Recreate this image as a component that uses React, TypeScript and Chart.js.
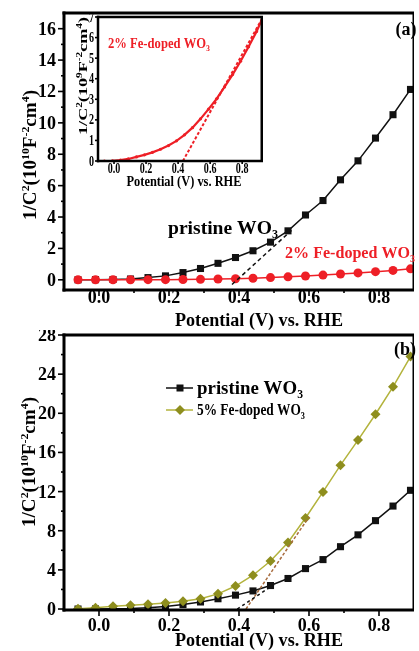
import React, { useEffect, useRef } from 'react';
import { Chart, registerables } from 'chart.js';
Chart.register(...registerables);

// ---------- data ----------
const potential = [-0.06, -0.01, 0.04, 0.09, 0.14, 0.19, 0.24, 0.29, 0.34, 0.39, 0.44, 0.49, 0.54, 0.59, 0.64, 0.69, 0.74, 0.79, 0.84, 0.89];
const pristine = [0.0, 0.01, 0.02, 0.05, 0.14, 0.25, 0.46, 0.72, 1.05, 1.42, 1.85, 2.4, 3.12, 4.13, 5.05, 6.37, 7.58, 9.03, 10.52, 12.13];
const fe2 = [0, 0, 0, 0, 0.01, 0.01, 0.02, 0.03, 0.05, 0.07, 0.1, 0.14, 0.19, 0.24, 0.3, 0.37, 0.44, 0.52, 0.6, 0.7];
const fe5 = [0.04, 0.14, 0.28, 0.38, 0.48, 0.61, 0.79, 1.06, 1.55, 2.35, 3.45, 4.9, 6.8, 9.3, 11.97, 14.7, 17.26, 19.9, 22.7, 25.8];

const insetPotential = [-0.06, -0.01, 0.04, 0.09, 0.14, 0.19, 0.24, 0.29, 0.34, 0.39, 0.44, 0.49, 0.54, 0.59, 0.64, 0.69, 0.74, 0.79, 0.84, 0.89, 0.93];
const insetFe2 = [0, 0.01, 0.04, 0.1, 0.2, 0.3, 0.42, 0.57, 0.75, 0.98, 1.27, 1.62, 2.05, 2.52, 3.02, 3.6, 4.2, 4.85, 5.55, 6.3, 7.0];

const tangentTopX = [0.38, 0.55];
const tangentTopY = [-0.3, 3.15];
const insetTangentX = [0.43, 0.93];
const insetTangentY = [0, 7];
const tangentPristineX = [0.395, 0.5];
const tangentPristineY = [0, 2.5];
const tangentFe5X = [0.42, 0.6];
const tangentFe5Y = [0, 9.4];

const xTicks = [0.0, 0.2, 0.4, 0.6, 0.8];
const xMinor = [0.1, 0.3, 0.5, 0.7];
const topYTicks = [0, 2, 4, 6, 8, 10, 12, 14, 16];
const topYMinor = [1, 3, 5, 7, 9, 11, 13, 15];
const botYTicks = [0, 4, 8, 12, 16, 20, 24, 28];
const botYMinor = [2, 6, 10, 14, 18, 22, 26];
const insetYTicks = [0, 1, 2, 3, 4, 5, 6, 7];
const insetXTicks = [0.0, 0.2, 0.4, 0.6, 0.8];

// ---------- styles ----------
const FONT = '"Liberation Serif", "Times New Roman", serif';
const RED = '#ee1f26';
const BLACK = '#111111';
const OLIVE_PT = '#8e8e1e';
const OLIVE_LN = '#b3b33c';
const BROWN = '#a86c3e';

type Seg = [string, number]; // 0 normal, 1 sup, 2 sub

function segWidth(ctx: CanvasRenderingContext2D, segs: Seg[], size: number) {
  let w = 0;
  for (const [t, k] of segs) {
    ctx.font = `bold ${k ? size * 0.62 : size}px ${FONT}`;
    w += ctx.measureText(t).width;
  }
  return w;
}

function drawRich(
  ctx: CanvasRenderingContext2D,
  segs: Seg[],
  x: number,
  y: number,
  size: number,
  opt: { align?: 'left' | 'center' | 'right'; rot?: number; color?: string; width?: number; sx?: number } = {}
) {
  ctx.save();
  ctx.translate(x, y);
  if (opt.rot) ctx.rotate(opt.rot);
  const w = segWidth(ctx, segs, size);
  const sx = opt.width ? opt.width / w : opt.sx ?? 1;
  ctx.scale(sx, 1);
  let cx = opt.align === 'left' ? 0 : opt.align === 'right' ? -w : -w / 2;
  ctx.fillStyle = opt.color ?? '#000';
  ctx.textBaseline = 'alphabetic';
  ctx.textAlign = 'left';
  for (const [t, k] of segs) {
    const fs = k ? size * 0.62 : size;
    ctx.font = `bold ${fs}px ${FONT}`;
    const dy = k === 1 ? -size * 0.4 : k === 2 ? size * 0.22 : 0;
    ctx.fillText(t, cx, size * 0.33 + dy);
    cx += ctx.measureText(t).width;
  }
  ctx.restore();
}

type Spec = {
  xTicks: number[];
  xMinor: number[];
  yTicks: number[];
  yMinor: number[];
  xFmt: (v: number) => string;
  tickFont: number;
  tickSx: number;
  xLabelY: number;
  yLabelRight: number;
  major: number;
  minor: number;
  frameW: number;
  topW: number;
  rightW: number;
  whiteBg?: boolean;
  texts: (ctx: CanvasRenderingContext2D) => void;
};

function decoPlugin(spec: Spec) {
  return {
    id: 'deco',
    beforeDraw(chart: any) {
      if (!spec.whiteBg) return;
      const { ctx, chartArea: a } = chart;
      ctx.save();
      ctx.fillStyle = '#fff';
      ctx.fillRect(a.left, a.top, a.right - a.left, a.bottom - a.top);
      ctx.restore();
    },
    afterDatasetsDraw(chart: any) {
      const { ctx, chartArea: a, scales } = chart;
      const xs = scales.x;
      const ys = scales.y;
      const line = (x1: number, y1: number, x2: number, y2: number) => {
        ctx.beginPath();
        ctx.moveTo(x1, y1);
        ctx.lineTo(x2, y2);
        ctx.stroke();
      };
      ctx.save();
      ctx.strokeStyle = '#000';
      ctx.lineWidth = 1.6;
      for (const v of spec.xTicks) {
        const p = xs.getPixelForValue(v);
        line(p, a.bottom, p, a.bottom + spec.major);
      }
      for (const v of spec.xMinor) {
        const p = xs.getPixelForValue(v);
        line(p, a.bottom, p, a.bottom + spec.minor);
      }
      for (const v of spec.yTicks) {
        const p = ys.getPixelForValue(v);
        line(a.left - spec.major, p, a.left, p);
      }
      for (const v of spec.yMinor) {
        const p = ys.getPixelForValue(v);
        line(a.left - spec.minor, p, a.left, p);
      }
      // frame
      const fw = spec.frameW;
      ctx.lineWidth = fw;
      line(a.left, a.top - spec.topW / 2, a.left, a.bottom + fw / 2);
      line(a.left - fw / 2, a.bottom, a.right, a.bottom);
      ctx.lineWidth = spec.topW;
      line(a.left - fw / 2, a.top, a.right, a.top);
      ctx.lineWidth = spec.rightW;
      line(a.right - spec.rightW / 2, a.top, a.right - spec.rightW / 2, a.bottom);
      // tick labels
      for (const v of spec.xTicks) {
        drawRich(ctx, [[spec.xFmt(v), 0]], xs.getPixelForValue(v), spec.xLabelY, spec.tickFont, { sx: spec.tickSx });
      }
      for (const v of spec.yTicks) {
        drawRich(ctx, [[String(v), 0]], spec.yLabelRight, ys.getPixelForValue(v), spec.tickFont, {
          align: 'right',
          sx: spec.tickSx,
        });
      }
      spec.texts(ctx);
      ctx.restore();
    },
  };
}

const pts = (xs: number[], ys: number[]) => xs.map((x, i) => ({ x, y: ys[i] }));

function baseOptions(pad: any, xmin: number, xmax: number, ymin: number, ymax: number) {
  return {
    animation: false as const,
    responsive: false,
    devicePixelRatio: 1,
    events: [] as any[],
    layout: { padding: pad },
    plugins: { legend: { display: false }, tooltip: { enabled: false } },
    scales: {
      x: { type: 'linear' as const, display: false, min: xmin, max: xmax },
      y: { type: 'linear' as const, display: false, min: ymin, max: ymax },
    },
  };
}

const yTitleMain: Seg[] = [
  ['1/C', 0],
  ['2', 1],
  ['(10', 0],
  ['10', 1],
  ['F', 0],
  ['-2', 1],
  ['cm', 0],
  ['4', 1],
  [')', 0],
];
const yTitleInset: Seg[] = [
  ['1/C', 0],
  ['2', 1],
  ['(10', 0],
  ['9', 1],
  ['F', 0],
  ['-2', 1],
  ['cm', 0],
  ['4', 1],
  [')', 0],
];
const xTitle = 'Potential (V) vs. RHE';

function topConfig(): any {
  return {
    type: 'scatter',
    data: {
      datasets: [
        {
          data: pts(tangentTopX, tangentTopY),
          showLine: true,
          borderColor: BLACK,
          borderWidth: 1.5,
          borderDash: [4, 3],
          pointRadius: 0,
        },
        {
          data: pts(potential, fe2),
          showLine: true,
          borderColor: RED,
          borderWidth: 1.5,
          pointStyle: 'circle',
          pointRadius: 4.5,
          pointBackgroundColor: RED,
          pointBorderColor: RED,
          pointBorderWidth: 0,
        },
        {
          data: pts(potential, pristine),
          showLine: true,
          borderColor: BLACK,
          borderWidth: 1.5,
          pointStyle: 'rect',
          pointRadius: 5,
          pointBackgroundColor: BLACK,
          pointBorderColor: BLACK,
          pointBorderWidth: 0,
        },
      ],
    },
    options: baseOptions({ left: 64, top: 13, right: 0, bottom: 44 }, -0.1, 0.9, -0.65, 17),
    plugins: [
      decoPlugin({
        xTicks,
        xMinor,
        yTicks: topYTicks,
        yMinor: topYMinor,
        xFmt: (v) => v.toFixed(1),
        tickFont: 18,
        tickSx: 1,
        xLabelY: 297.5,
        yLabelRight: 56,
        major: 6,
        minor: 3,
        frameW: 3,
        topW: 3,
        rightW: 1.5,
        texts: (ctx) => {
          drawRich(ctx, yTitleMain, 30, 155, 18, { rot: -Math.PI / 2, width: 130 });
          drawRich(ctx, [[xTitle, 0]], 259, 320, 18, { width: 168 });
          drawRich(ctx, [['(a)', 0]], 406, 29, 18);
          drawRich(ctx, [['pristine WO', 0], ['3', 2]], 168, 228, 19, { align: 'left', width: 110 });
          drawRich(ctx, [['2% Fe-doped WO', 0], ['3', 2]], 285, 253, 16, { align: 'left', width: 130, color: RED });
        },
      }),
    ],
  };
}

function insetConfig(): any {
  return {
    type: 'scatter',
    data: {
      datasets: [
        {
          data: pts(insetTangentX, insetTangentY),
          showLine: true,
          borderColor: RED,
          borderWidth: 2,
          borderDash: [3, 2],
          pointRadius: 0,
        },
        {
          data: pts(insetPotential, insetFe2),
          showLine: true,
          borderColor: RED,
          borderWidth: 2.2,
          pointStyle: 'circle',
          pointRadius: 1.6,
          pointBackgroundColor: RED,
          pointBorderWidth: 0,
        },
      ],
    },
    options: baseOptions({ left: 38, top: 17, right: 7, bottom: 39 }, -0.1, 0.93, 0, 7),
    plugins: [
      decoPlugin({
        xTicks: insetXTicks,
        xMinor: [],
        yTicks: insetYTicks,
        yMinor: [],
        xFmt: (v) => v.toFixed(1),
        tickFont: 14,
        tickSx: 0.72,
        xLabelY: 168,
        yLabelRight: 34,
        major: 3,
        minor: 0,
        frameW: 2.5,
        topW: 2.5,
        rightW: 2.5,
        whiteBg: true,
        texts: (ctx) => {
          drawRich(ctx, yTitleInset, 23, 76, 13, { rot: -Math.PI / 2, width: 118 });
          drawRich(ctx, [[xTitle, 0]], 124, 181, 14, { width: 115 });
          drawRich(ctx, [['2% Fe-doped WO', 0], ['3', 2]], 48, 43, 14, { align: 'left', width: 102, color: RED });
        },
      }),
    ],
  };
}

function bottomConfig(): any {
  return {
    type: 'scatter',
    data: {
      datasets: [
        {
          data: pts(tangentPristineX, tangentPristineY),
          showLine: true,
          borderColor: BLACK,
          borderWidth: 1.5,
          borderDash: [3, 3],
          pointRadius: 0,
        },
        {
          data: pts(tangentFe5X, tangentFe5Y),
          showLine: true,
          borderColor: BROWN,
          borderWidth: 1.5,
          borderDash: [3, 2],
          pointRadius: 0,
        },
        {
          data: pts(potential, fe5),
          showLine: true,
          borderColor: OLIVE_LN,
          borderWidth: 1.5,
          pointStyle: 'rectRot',
          pointRadius: 5,
          pointBackgroundColor: OLIVE_PT,
          pointBorderColor: OLIVE_PT,
          pointBorderWidth: 0,
        },
        {
          data: pts(potential, pristine),
          showLine: true,
          borderColor: BLACK,
          borderWidth: 1.5,
          pointStyle: 'rect',
          pointRadius: 5,
          pointBackgroundColor: BLACK,
          pointBorderColor: BLACK,
          pointBorderWidth: 0,
        },
      ],
    },
    options: baseOptions({ left: 64, top: 4, right: 0, bottom: 41 }, -0.1, 0.9, -0.1, 28),
    plugins: [
      decoPlugin({
        xTicks,
        xMinor,
        yTicks: botYTicks,
        yMinor: botYMinor,
        xFmt: (v) => v.toFixed(1),
        tickFont: 18,
        tickSx: 1,
        xLabelY: 295,
        yLabelRight: 56,
        major: 6,
        minor: 3,
        frameW: 3,
        topW: 3,
        rightW: 1.5,
        texts: (ctx) => {
          drawRich(ctx, yTitleMain, 29, 132, 18, { rot: -Math.PI / 2, width: 130 });
          drawRich(ctx, [[xTitle, 0]], 259, 310, 18, { width: 168 });
          drawRich(ctx, [['(b)', 0]], 405, 19, 18);
          // legend
          ctx.save();
          ctx.lineWidth = 1.5;
          ctx.strokeStyle = BLACK;
          ctx.beginPath();
          ctx.moveTo(166, 58);
          ctx.lineTo(193, 58);
          ctx.stroke();
          ctx.fillStyle = BLACK;
          ctx.fillRect(176.5, 54.5, 7, 7);
          ctx.strokeStyle = OLIVE_LN;
          ctx.beginPath();
          ctx.moveTo(166, 80);
          ctx.lineTo(193, 80);
          ctx.stroke();
          ctx.fillStyle = OLIVE_PT;
          ctx.beginPath();
          ctx.moveTo(180, 75);
          ctx.lineTo(185, 80);
          ctx.lineTo(180, 85);
          ctx.lineTo(175, 80);
          ctx.closePath();
          ctx.fill();
          ctx.restore();
          drawRich(ctx, [['pristine WO', 0], ['3', 2]], 197, 58, 19, { align: 'left', width: 106 });
          drawRich(ctx, [['5% Fe-doped WO', 0], ['3', 2]], 197, 80, 16.5, { align: 'left', width: 108 });
        },
      }),
    ],
  };
}

export default function App() {
  const topRef = useRef<HTMLCanvasElement>(null);
  const botRef = useRef<HTMLCanvasElement>(null);
  const insRef = useRef<HTMLCanvasElement>(null);
  useEffect(() => {
    const charts = [
      new Chart(topRef.current!, topConfig()),
      new Chart(botRef.current!, bottomConfig()),
      new Chart(insRef.current!, insetConfig()),
    ];
    return () => charts.forEach((c) => c.destroy());
  }, []);
  return (
    <div style={{ position: 'absolute', left: 0, top: 0, width: 419, height: 651, background: '#fff', overflow: 'hidden' }}>
      <canvas ref={topRef} width={419} height={334} style={{ position: 'absolute', left: 0, top: 0, width: 419, height: 334 }} />
      <canvas ref={botRef} width={419} height={321} style={{ position: 'absolute', left: 0, top: 330, width: 419, height: 321 }} />
      <canvas ref={insRef} width={210} height={200} style={{ position: 'absolute', left: 60, top: 0, width: 210, height: 200 }} />
    </div>
  );
}
